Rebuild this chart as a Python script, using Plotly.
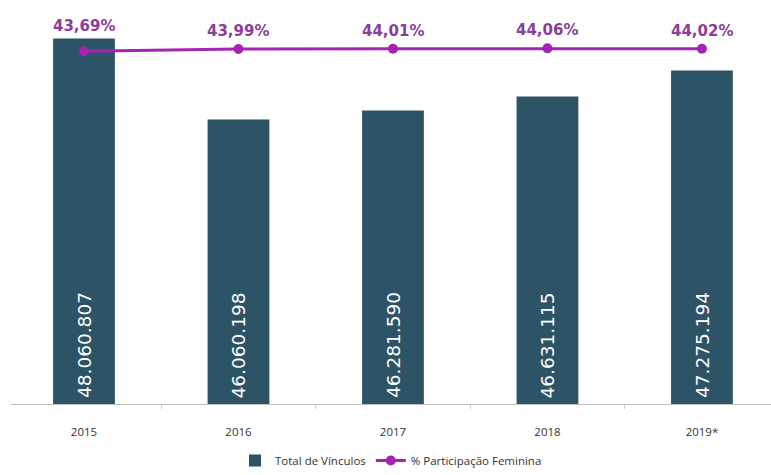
import plotly.graph_objects as go

# Dados
anos = ["2015", "2016", "2017", "2018", "2019*"]
total_vinculos = [48060807, 46060198, 46281590, 46631115, 47275194]
participacao_feminina = [43.69, 43.99, 44.01, 44.06, 44.02]

COR_BARRA = "#2D5367"
COR_LINHA = "#A324B0"
COR_ROTULO = "#8B3D99"

Y_MIN, Y_MAX = 39037000, 49013000


def fmt_int(v):
    return f"{v:,}".replace(",", ".")


def fmt_pct(v):
    return f"{v:.2f}".replace(".", ",") + "%"


fig = go.Figure()

fig.add_trace(go.Bar(
    x=anos,
    y=total_vinculos,
    name="Total de Vínculos",
    marker=dict(color=COR_BARRA, line=dict(width=0)),
    width=0.4,
    hoverinfo="skip",
))

fig.add_trace(go.Scatter(
    x=anos,
    y=participacao_feminina,
    name="% Participação Feminina",
    yaxis="y2",
    mode="lines+markers",
    line=dict(color=COR_LINHA, width=3),
    marker=dict(color=COR_LINHA, size=10),
    hoverinfo="skip",
))

# Valores das barras, na vertical junto à base
for i, v in enumerate(total_vinculos):
    fig.add_annotation(
        x=i, y=Y_MIN, xref="x", yref="y",
        text=fmt_int(v),
        textangle=-90,
        showarrow=False,
        yanchor="bottom",
        yshift=4,
        font=dict(family="DejaVu Sans", size=18.5, color="white"),
    )

# Rótulos percentuais acima dos pontos
for i, p in enumerate(participacao_feminina):
    fig.add_annotation(
        x=i, y=p, xref="x", yref="y2",
        text=f"<b>{fmt_pct(p)}</b>",
        showarrow=False,
        yshift=25 if i == 0 else 18,
        font=dict(family="DejaVu Sans", size=15, color=COR_ROTULO),
    )

fig.update_layout(
    width=771,
    height=475,
    margin=dict(l=11, r=0, t=0, b=66),
    paper_bgcolor="white",
    plot_bgcolor="white",
    showlegend=True,
    legend=dict(
        orientation="h",
        x=0.5, xanchor="center",
        y=-0.14, yanchor="middle",
        font=dict(family="Open Sans", size=11.5, color="#333333"),
        itemwidth=30,
    ),
    xaxis=dict(
        type="category",
        range=[-0.4725, 4.447],
        showline=True,
        linecolor="#BFBFBF",
        linewidth=1,
        ticks="outside",
        tickson="boundaries",
        ticklen=4,
        tickcolor="#D0D0D0",
        showgrid=False,
        ticklabelstandoff=17,
        tickfont=dict(family="Open Sans", size=11.5, color="#333333"),
    ),
    yaxis=dict(
        range=[Y_MIN, Y_MAX],
        visible=False,
        showgrid=False,
        zeroline=False,
    ),
    yaxis2=dict(
        range=[0, 50.05],
        overlaying="y",
        side="right",
        visible=False,
        showgrid=False,
        zeroline=False,
    ),
)

fig.write_html("out.html")
